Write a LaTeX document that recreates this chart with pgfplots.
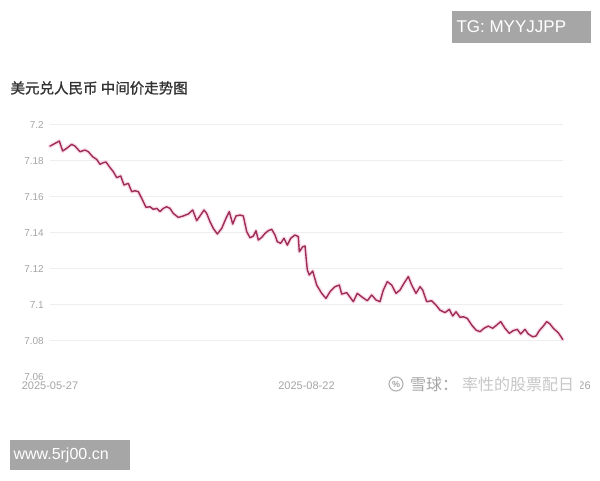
\documentclass[border=0pt]{standalone}
\usepackage{pgfplots}
\pgfplotsset{compat=1.18}
\usepackage{fontspec}
\setmainfont{Liberation Sans}
\newfontfamily\cjk{Noto Sans CJK SC}
\newfontfamily\cjkb[FakeBold=1]{Noto Sans CJK SC}
\definecolor{linec}{RGB}{158,44,86}
\definecolor{glowc}{RGB}{242,170,200}
\definecolor{gridc}{RGB}{238,238,238}
\definecolor{tickc}{RGB}{165,165,165}
\definecolor{wmbox}{RGB}{166,166,166}
\pgfplotstableread{
x y
0 7.1881
5 7.1896
9.3 7.1909
12.7 7.1854
16.7 7.1869
21.7 7.1891
25 7.1881
30 7.1850
35 7.1859
38.3 7.1850
42.7 7.1822
46.7 7.1807
50 7.1780
53.3 7.1789
56 7.1793
59.3 7.1767
63.3 7.1739
66.7 7.1706
70.7 7.1715
74 7.1665
78.3 7.1674
81.7 7.1628
85 7.1633
88.3 7.1628
91.7 7.1591
96 7.1541
100 7.1544
103.3 7.1530
106.7 7.1535
110 7.1517
113.3 7.1535
116.7 7.1544
120 7.1535
123.3 7.1507
128.3 7.1485
133.3 7.1493
138.3 7.1504
142.7 7.1526
146.7 7.1467
150 7.1493
154 7.1526
156.7 7.1507
160 7.1461
163.3 7.1424
167.3 7.1393
171.7 7.1424
176 7.1480
179.3 7.1517
182.7 7.1448
186 7.1493
190 7.1498
193.3 7.1493
196.7 7.1406
200 7.1372
203.3 7.1381
206 7.1411
208.3 7.1359
211.7 7.1374
215 7.1396
218.3 7.1411
221.7 7.1419
225 7.1387
227.3 7.1350
230.7 7.1341
234 7.1369
237.3 7.1331
240.7 7.1369
245 7.1387
248.3 7.1378
249.3 7.1294
252.7 7.1322
255 7.1326
257.3 7.1193
259.3 7.1165
262.7 7.1187
266.7 7.1109
271.7 7.1063
276 7.1035
280 7.1072
285 7.1100
289.3 7.1109
291.7 7.1059
296.7 7.1067
303.3 7.1017
307.3 7.1063
311.7 7.1044
317.3 7.1022
321.7 7.1054
326 7.1026
330 7.1017
333.3 7.1081
337.3 7.1128
341.7 7.1109
346 7.1063
350 7.1081
354 7.1119
358.3 7.1156
361.7 7.1109
366 7.1063
370 7.1100
372.7 7.1081
376.7 7.1017
381.7 7.1022
386 7.0998
390 7.0970
395 7.0956
399.3 7.0974
402.7 7.0937
406 7.0961
410 7.0930
413.3 7.0933
417.3 7.0924
421.7 7.0887
426 7.0859
430 7.0850
434 7.0869
438.3 7.0881
442.7 7.0869
446.7 7.0887
450.7 7.0906
455 7.0869
459.3 7.0841
463.3 7.0856
467.3 7.0863
470.7 7.0837
475 7.0863
478.3 7.0837
482.7 7.0822
486 7.0826
489.3 7.0856
493.3 7.0881
496.7 7.0906
500 7.0893
503.3 7.0869
508.3 7.0844
512.7 7.0807
}\rate
\begin{document}
\begin{tikzpicture}[x=1pt,y=1pt]
\fill[white] (0,0) rectangle (600,480);
\useasboundingbox (0,0) rectangle (600,480);
% title
\node[anchor=west, text=black!80, font=\cjkb\fontsize{14.5}{16}\selectfont] at (7,392) {美元兑人民币\ 中间价走势图};
\begin{axis}[
  at={(50pt,103.3pt)}, anchor=south west,
  scale only axis, width=513pt, height=252pt,
  xmin=0, xmax=513, ymin=7.06, ymax=7.2,
  clip=false,
  axis line style={draw=none},
  major tick length=0pt,
  ytick={7.08,7.1,7.12,7.14,7.16,7.18,7.2},
  yticklabels={7.08,7.1,7.12,7.14,7.16,7.18,7.2},
  extra y ticks={7.06}, extra y tick labels={7.06},
  extra y tick style={grid=none},
  ymajorgrids,
  grid style={gridc, line width=0.9pt},
  yticklabel style={font=\fontsize{10}{12}\selectfont, text=tickc, anchor=east, inner sep=0pt, xshift=-6pt},
  xtick={0,256.5,513},
  xticklabels={2025-05-27,2025-08-22,2025-11-26},
  xticklabel style={font=\fontsize{11}{12}\selectfont, text=tickc, anchor=north, inner sep=0pt, yshift=-5pt},
]
\addplot[glowc, opacity=0.4, line width=4pt, line join=round, line cap=round] table {\rate};
\addplot[linec, line width=1.4pt, line join=round, line cap=round] table {\rate};
\end{axis}
% Xueqiu watermark over the last date label
\fill[white] (383,86) rectangle (580,103);
\draw[black!30, line width=1.1pt] (396,96) circle (7);
\node[text=black!35, font=\fontsize{9}{10}\selectfont\bfseries] at (396,96) {\%};
\node[anchor=west, inner sep=0pt, text=black!35, font=\cjk\fontsize{16}{18}\selectfont] at (410,96) {雪球：};
\node[anchor=west, inner sep=0pt, text=black!22, font=\cjk\fontsize{16}{18}\selectfont] at (462,96) {率性的股票配日};
% corner watermarks
\fill[wmbox] (452,437) rectangle (591,469);
\node[anchor=west, text=white, font=\fontsize{17}{18}\selectfont] at (453,453) {TG: MYYJJPP};
\fill[wmbox] (10,10) rectangle (130,40);
\node[anchor=west, text=white, font=\fontsize{16}{18}\selectfont] at (10,25) {www.5rj00.cn};
\end{tikzpicture}
\end{document}
